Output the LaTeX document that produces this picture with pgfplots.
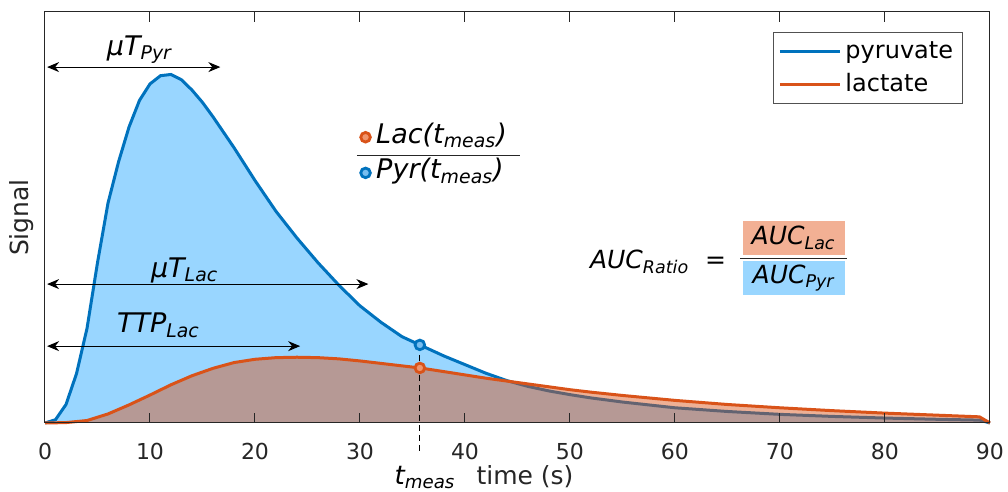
\documentclass[border=0pt]{standalone}
\usepackage{pgfplots}
\pgfplotsset{compat=1.18}
\usepackage{fontspec}
\setmainfont{DejaVu Sans}[ItalicFont={DejaVu Sans Oblique}]
\usetikzlibrary{arrows.meta}

\definecolor{pyr}{RGB}{0,114,189}
\definecolor{lac}{RGB}{217,83,25}
\definecolor{pyrfill}{RGB}{153,214,255}
\definecolor{lacbox}{RGB}{242,176,148}
\definecolor{pyrmk}{RGB}{120,190,240}
\definecolor{lacmk}{RGB}{240,150,110}
\definecolor{axgray}{RGB}{38,38,38}

\newcommand{\fs}[1]{\fontsize{#1}{#1}\selectfont}
\newcommand{\sub}[1]{\textsubscript{#1}}

% signal curves (time in s, signal normalised to axis height)
\pgfplotstableread{
t     y
0     0
1     0.008
2     0.045
3     0.12
4     0.23
5     0.39
6     0.535
7     0.635
8     0.72
9     0.785
10    0.825
11    0.845
12    0.848
13    0.835
14    0.81
15    0.78
16    0.745
18    0.67
20    0.59
22    0.515
24    0.45
26    0.39
28    0.335
30    0.285
32    0.245
34    0.21
35.7  0.19
38    0.163
40    0.142
42    0.121
44    0.103
46    0.089
48    0.078
50    0.069
52    0.061
55    0.051
60    0.037
65    0.028
70    0.021
75    0.016
80    0.012
85    0.009
89    0.007
90    0
}\pyrdata

\pgfplotstableread{
t     y
0     0
2     0.001
4     0.006
6     0.022
8     0.044
10    0.068
12    0.093
14    0.115
16    0.133
18    0.147
20    0.155
22    0.159
24    0.160
26    0.159
28    0.156
30    0.151
32    0.145
34    0.139
35.7  0.134
38    0.125
40    0.117
42    0.109
44    0.102
46    0.095
48    0.088
50    0.081
52    0.075
55    0.067
60    0.055
65    0.045
70    0.037
75    0.030
80    0.024
85    0.019
89    0.015
90    0
}\lacdata

\newsavebox\lacicon
\newsavebox\pyricon

\begin{document}%
\sbox\lacicon{\tikz[baseline=-0.55ex]\draw[lac,line width=1.4pt,fill=lacmk] (0,0) circle (2.4pt);}%
\sbox\pyricon{\tikz[baseline=-0.55ex]\draw[pyr,line width=1.4pt,fill=pyrmk] (0,0) circle (2.4pt);}%
\begin{tikzpicture}
\useasboundingbox (-22.5pt,-34.5pt) rectangle (481.5pt,211.5pt);
\begin{axis}[
  scale only axis,
  width=472.5pt, height=205.5pt,
  xmin=0, xmax=90, ymin=0, ymax=1,
  xtick={0,10,...,90}, ytick=\empty,
  tick align=inside,
  major tick length=5pt,
  axis line style={axgray, line width=0.5pt},
  every tick/.style={axgray, line width=0.5pt},
  tick label style={font=\fs{11}, text=axgray},
  xticklabel style={yshift=-6.5pt},
  /pgf/number format/assume math mode=true,
  xlabel={time (s)},
  xlabel style={font=\fs{12.5}, text=axgray, at={(axis description cs:0.508,-0.150)}, anchor=base},
  ylabel={Signal},
  ylabel style={font=\fs{12.5}, text=axgray, at={(axis description cs:-0.025,0.5)}, anchor=center},
  axis on top,
  clip=false,
  legend style={at={(axis description cs:0.971,0.951)}, anchor=north east,
    font=\fs{12}, draw=axgray!80, line width=0.5pt, inner sep=2.5pt,
    row sep=2pt},
  legend cell align=left,
  legend image code/.code={\draw[#1] (0pt,0pt) -- (30pt,0pt);},
]
  \addplot[fill=pyrfill, draw=none, forget plot] table[x=t,y=y] {\pyrdata} \closedcycle;
  \addplot[pyr, line width=1.5pt] table[x=t,y=y] {\pyrdata};
  \addplot[fill=lac, fill opacity=0.46, draw=none, forget plot] table[x=t,y=y] {\lacdata} \closedcycle;
  \addplot[lac, line width=1.5pt] table[x=t,y=y] {\lacdata};
  \legend{pyruvate, lactate}

  % t_meas markers and guide line
  \addplot[black, densely dashed, line width=0.4pt, forget plot] coordinates {(35.7,0.19) (35.7,-0.073)};
  \addplot[only marks, mark=*, mark size=2.4pt, mark options={draw=pyr, fill=pyrmk, line width=1.4pt}, forget plot] coordinates {(35.7,0.19)};
  \addplot[only marks, mark=*, mark size=2.4pt, mark options={draw=lac, fill=lacmk, line width=1.4pt}, forget plot] coordinates {(35.7,0.134)};

  \node[font=\fs{13}\itshape, anchor=base] at (axis cs:36.2,-0.150) {t\sub{meas}};

  % arrows
  \draw[{Stealth[length=6pt,width=5pt]}-{Stealth[length=6pt,width=5pt]}, line width=0.5pt] (axis cs:0.2,0.866) -- (axis cs:16.7,0.866);
  \node[font=\fs{13.5}\itshape] at (axis cs:9.0,0.908) {μT\sub{Pyr}};
  \draw[{Stealth[length=6pt,width=5pt]}-{Stealth[length=6pt,width=5pt]}, line width=0.5pt] (axis cs:0.2,0.338) -- (axis cs:30.8,0.338);
  \node[font=\fs{13.5}\itshape] at (axis cs:13.3,0.372) {μT\sub{Lac}};
  \draw[{Stealth[length=6pt,width=5pt]}-{Stealth[length=6pt,width=5pt]}, line width=0.5pt] (axis cs:0.2,0.187) -- (axis cs:24.3,0.187);
  \node[font=\fs{13.5}\itshape] at (axis cs:10.8,0.238) {TTP\sub{Lac}};

  % ratio at t_meas
  \node[font=\fs{13.5}\itshape, anchor=west, inner sep=0pt] at (axis cs:29.9,0.700) {\usebox\lacicon\,Lac(t\sub{meas})};
  \draw[axgray, line width=0.6pt] (axis cs:29.7,0.650) -- (axis cs:45.2,0.650);
  \node[font=\fs{13.5}\itshape, anchor=west, inner sep=0pt] at (axis cs:29.9,0.612) {\usebox\pyricon\,Pyr(t\sub{meas})};

  % AUC ratio
  \node[font=\fs{12.5}\itshape, anchor=east, inner sep=0pt] at (axis cs:64.9,0.392) {AUC\sub{Ratio}\ \ \upshape=};
  \node[font=\fs{12.5}\itshape, fill=lacbox, minimum width=51pt, minimum height=17pt, inner sep=0pt] at (axis cs:71.3,0.450) {AUC\sub{Lac}};
  \node[font=\fs{12.5}\itshape, fill=pyrfill, minimum width=51pt, minimum height=17pt, inner sep=0pt] at (axis cs:71.3,0.353) {AUC\sub{Pyr}};
  \draw[axgray, line width=0.6pt] (axis cs:66.2,0.401) -- (axis cs:76.4,0.401);
\end{axis}
\end{tikzpicture}%
\end{document}
